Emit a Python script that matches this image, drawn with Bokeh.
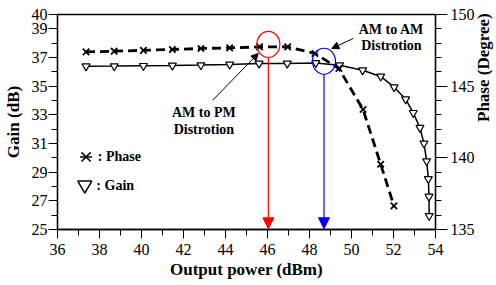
import math
from bokeh.plotting import figure
from bokeh.models import Range1d, LinearAxis, FixedTicker, Arrow, NormalHead
from bokeh.core.properties import value
from bokeh.embed import file_html
from bokeh.resources import INLINE

# ---- data ----
phase_x = [37.36, 38.70, 40.09, 41.47, 42.83, 44.20, 45.62, 46.96, 48.26, 49.40, 50.55, 51.39, 52.02]
phase_y = [147.39, 147.44, 147.50, 147.56, 147.63, 147.67, 147.74, 147.74, 147.28, 146.23, 143.37, 139.55, 136.65]

gain_x = [37.36, 38.70, 40.09, 41.47, 42.83, 44.20, 45.60, 46.94, 48.30, 49.43, 50.53, 51.39, 52.03,
          52.58, 52.94, 53.26, 53.45, 53.58, 53.66, 53.69, 53.70]
gain_y = [36.39, 36.40, 36.42, 36.44, 36.47, 36.51, 36.58, 36.58, 36.62, 36.46, 36.11, 35.68, 34.93,
          34.09, 33.14, 32.10, 31.01, 29.77, 28.53, 27.30, 25.95]

x_ticks = [36, 38, 40, 42, 44, 46, 48, 50, 52, 54]
gain_ticks = [25, 27, 29, 31, 33, 35, 37, 39, 40]
phase_ticks = [135, 140, 145, 150]

am_pm_power = 46.04   # red marker (dBm)
am_am_power = 48.69   # blue marker (dBm)

SERIF = "Liberation Serif"

p = figure(frame_width=378, frame_height=215, output_backend="svg", toolbar_location=None,
           x_range=Range1d(36, 54), y_range=Range1d(25, 40),
           min_border_left=10, min_border_right=10, min_border_top=14, min_border_bottom=10)
p.extra_y_ranges = {"phase": Range1d(135, 150)}
p.xgrid.visible = False
p.ygrid.visible = False
p.outline_line_color = "black"
p.outline_line_width = 1.3
p.background_fill_color = "white"
p.border_fill_color = "white"

def style_axis(ax, major_out, minor_out, standoff):
    ax.axis_line_width = 1.3
    ax.axis_line_color = "black"
    ax.major_tick_in = 0
    ax.minor_tick_in = 0
    ax.major_tick_out = major_out
    ax.minor_tick_out = minor_out
    ax.major_tick_line_width = 1
    ax.minor_tick_line_width = 1
    ax.major_tick_line_color = "black"
    ax.minor_tick_line_color = "black"
    ax.major_label_text_font = SERIF
    ax.major_label_text_font_size = "16px"
    ax.major_label_text_color = "black"
    ax.major_label_standoff = standoff
    ax.axis_label_text_font = SERIF
    ax.axis_label_text_font_size = "17px"
    ax.axis_label_text_font_style = "bold"
    ax.axis_label_text_color = "black"

xa = p.xaxis[0]
xa.ticker = FixedTicker(ticks=x_ticks, minor_ticks=list(range(36, 55)))
xa.axis_label = "Output power (dBm)"
style_axis(xa, 9, 6, 5)
xa.axis_label_standoff = 2

ya = p.yaxis[0]
ya.ticker = FixedTicker(ticks=gain_ticks, minor_ticks=list(range(25, 41)))
ya.axis_label = "Gain (dB)"
style_axis(ya, 9, 6, 1)
ya.axis_label_standoff = 6

ra = LinearAxis(y_range_name="phase", axis_label="Phase (Degree)")
ra.ticker = FixedTicker(ticks=phase_ticks, minor_ticks=list(range(135, 151)))
style_axis(ra, 12, 6, 3)
ra.axis_label_standoff = 6
if hasattr(ra, "axis_label_orientation"):
    ra.axis_label_orientation = math.pi / 2
p.add_layout(ra, "right")

# ---- series ----
p.line(gain_x, gain_y, line_color="black", line_width=1.5)
p.scatter(gain_x, gain_y, marker="inverted_triangle", size=8, fill_color="white",
          line_color="black", line_width=1.2)

p.line(phase_x, phase_y, y_range_name="phase", line_color="black", line_width=2.8,
       line_dash="9 5")
p.scatter(phase_x, phase_y, y_range_name="phase", marker="x", size=9,
          line_color="black", line_width=1.8)

# ---- markers for distortion points ----
p.ellipse(x=[am_pm_power], y=[37.91], width=23, height=26, width_units="screen",
          height_units="screen", fill_color=None, line_color="red", line_width=1.2)
p.ellipse(x=[am_am_power], y=[36.74], width=23, height=26, width_units="screen",
          height_units="screen", fill_color=None, line_color="blue", line_width=1.2)

p.add_layout(Arrow(end=NormalHead(size=11, fill_color="red", line_color="red"),
                   x_start=am_pm_power, y_start=37.0, x_end=am_pm_power, y_end=25.05,
                   line_color="red", line_width=1.2))
p.add_layout(Arrow(end=NormalHead(size=11, fill_color="blue", line_color="blue"),
                   x_start=am_am_power, y_start=35.83, x_end=am_am_power, y_end=25.05,
                   line_color="blue", line_width=1.2))

# annotation arrows
p.add_layout(Arrow(end=NormalHead(size=7, fill_color="black"),
                   x_start=43.39, y_start=34.02, x_end=45.56, y_end=37.28,
                   line_color="black", line_width=1))
p.add_layout(Arrow(end=NormalHead(size=7, fill_color="black"),
                   x_start=50.09, y_start=38.33, x_end=49.06, y_end=37.63,
                   line_color="black", line_width=1))

p.text(x=[42.97, 42.97], y=[33.18, 31.96], text=["AM to PM", "Distrotion"],
       text_font=value(SERIF), text_font_size="14px", text_font_style="bold",
       text_align="center", text_baseline="middle", text_color="black")
p.text(x=[51.9, 51.9], y=[38.94, 37.86], text=["AM to AM", "Distrotion"],
       text_font=value(SERIF), text_font_size="14px", text_font_style="bold",
       text_align="center", text_baseline="middle", text_color="black")

# ---- legend (drawn as marks and text) ----
p.scatter([37.36], [30.06], marker="x", size=13, line_color="black", line_width=1.5)
p.scatter([37.36], [30.06], marker="dash", size=12, line_color="black", line_width=1.5)
p.scatter([37.30], [28.1], marker="inverted_triangle", size=14, fill_color="white",
          line_color="black", line_width=1.5)
p.text(x=[37.92, 37.85], y=[30.06, 28.08], text=[": Phase", ": Gain"],
       text_font=value(SERIF), text_font_size="14px", text_font_style="bold",
       text_align="left", text_baseline="middle", text_color="black")

open("out.html", "w").write(file_html(p, INLINE))
